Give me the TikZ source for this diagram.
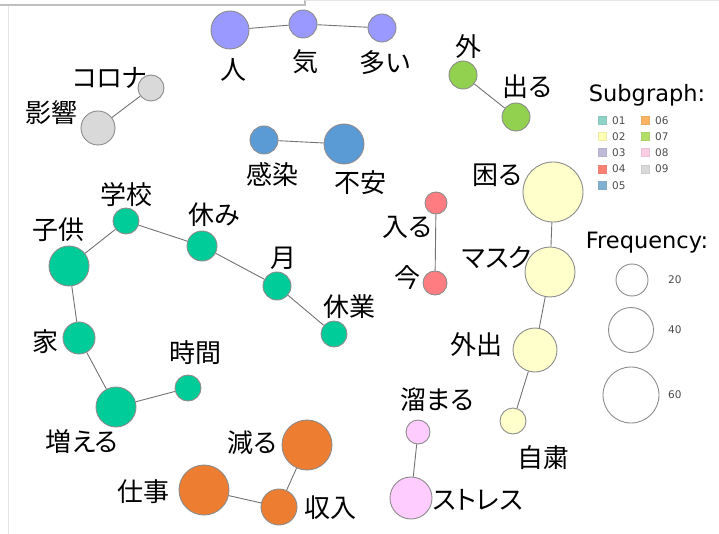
\documentclass[tikz,border=0pt]{standalone}
\usepackage{fontspec}
\newfontfamily\jp[RawFeature=+palt]{Noto Sans CJK JP}
\newfontfamily\legendfont{DejaVu Sans}

\definecolor{cTeal}{HTML}{00CC99}
\definecolor{cYellow}{HTML}{FFFFCC}
\definecolor{cPurple}{HTML}{9999FF}
\definecolor{cRed}{HTML}{FF7C80}
\definecolor{cBlue}{HTML}{5B9BD5}
\definecolor{cOrange}{HTML}{ED7D31}
\definecolor{cGreen}{HTML}{92D050}
\definecolor{cPink}{HTML}{FFCCFF}
\definecolor{cGray}{HTML}{D9D9D9}
\definecolor{sA}{HTML}{8DD3C7}
\definecolor{sB}{HTML}{FFFFB3}
\definecolor{sC}{HTML}{BEBADA}
\definecolor{sD}{HTML}{FB8072}
\definecolor{sE}{HTML}{80B1D3}
\definecolor{sF}{HTML}{FDB462}
\definecolor{sG}{HTML}{B3DE69}
\definecolor{sH}{HTML}{FCCDE5}
\definecolor{sI}{HTML}{D9D9D9}

\begin{document}
\begin{tikzpicture}[x=1pt,y=-1pt,
      word/.style={circle,draw=black!45,line width=.9pt,inner sep=0pt,minimum size=#1},
      lbl/.style={font=\jp\fontsize{26}{26}\selectfont,inner sep=0pt,text height=20.5pt,text depth=1pt},
      link/.style={draw=black!55,line width=.9pt},
      swatch/.style={draw=#1!85!gray,fill=#1,minimum size=8pt,inner sep=0pt},
      small/.style={font=\legendfont\fontsize{10.5}{10.5}\selectfont,text=black!70,inner sep=0pt,anchor=west},
      ring/.style={circle,draw=black!45,line width=.9pt,inner sep=0pt,minimum size=#1}
      ]
      \useasboundingbox (0,0) rectangle (719,534);
      % frame
      \draw[black!25,line width=2pt] (0,5) -- (305,5) -- (305,0);
      \draw[black!10,line width=1pt] (305,.5) -- (719,.5);
      \draw[black!10,line width=1pt] (8,6) -- (8,534);

      % 03
      \node[word=38pt,fill=cPurple] (hito) at (230,30) {};
      \node[word=28pt,fill=cPurple] (ki) at (303,24) {};
      \node[word=28pt,fill=cPurple] (ooi) at (382,28) {};
      \node[lbl] (lhito) at (233,70) {人};
      \node[lbl] (lki) at (305,62) {気};
      \node[lbl] (looi) at (385,63) {多い};
      \draw[link] (hito) -- (ki) -- (ooi);

      % 09
      \node[word=26pt,fill=cGray] (corona) at (151,88) {};
      \node[word=34pt,fill=cGray] (eikyo) at (98,128) {};
      \node[lbl] (lcorona) at (110,78) {コロナ};
      \node[lbl] (leikyo) at (51,113) {影響};
      \draw[link] (corona) -- (eikyo);

      % 05
      \node[word=28pt,fill=cBlue] (kansen) at (264,140) {};
      \node[word=40pt,fill=cBlue] (fuan) at (344,144) {};
      \node[lbl] (lkansen) at (272,175) {感染};
      \node[lbl] (lfuan) at (360,183) {不安};
      \draw[link] (kansen) -- (fuan);

      % 07
      \node[word=28pt,fill=cGreen] (soto) at (463,75) {};
      \node[word=28pt,fill=cGreen] (deru) at (516,117) {};
      \node[lbl] (lsoto) at (468,47) {外};
      \node[lbl] (lderu) at (527,87) {出る};
      \draw[link] (soto) -- (deru);

      % 01
      \node[word=26pt,fill=cTeal] (gakko) at (126,221) {};
      \node[word=40pt,fill=cTeal] (kodomo) at (69,266) {};
      \node[word=30pt,fill=cTeal] (yasumi) at (202,246) {};
      \node[word=28pt,fill=cTeal] (tsuki) at (277,286) {};
      \node[word=26pt,fill=cTeal] (kyugyo) at (334,334) {};
      \node[word=32pt,fill=cTeal] (ie) at (79,338) {};
      \node[word=26pt,fill=cTeal] (jikan) at (188,388) {};
      \node[word=40pt,fill=cTeal] (fueru) at (116,407) {};
      \node[lbl] (lgakko) at (126,195) {学校};
      \node[lbl] (lkodomo) at (58,230) {子供};
      \node[lbl] (lyasumi) at (214,215) {休み};
      \node[lbl] (ltsuki) at (283,258) {月};
      \node[lbl] (lkyugyo) at (349,307) {休業};
      \node[lbl] (lie) at (45,342) {家};
      \node[lbl] (ljikan) at (195,353) {時間};
      \node[lbl] (lfueru) at (82,442) {増える};
      \draw[link] (kodomo) -- (gakko) -- (yasumi) -- (tsuki) -- (kyugyo);
      \draw[link] (kodomo) -- (ie) -- (fueru) -- (jikan);

      % 06
      \node[word=50pt,fill=cOrange] (heru) at (307,445) {};
      \node[word=50pt,fill=cOrange] (shigoto) at (204,490) {};
      \node[word=36pt,fill=cOrange] (shunyu) at (279,507) {};
      \node[lbl] (lheru) at (252,443) {減る};
      \node[lbl] (lshigoto) at (143,492) {仕事};
      \node[lbl] (lshunyu) at (330,508) {収入};
      \draw[link] (shigoto) -- (shunyu) -- (heru);

      % 04
      \node[word=22pt,fill=cRed] (hairu) at (436,203) {};
      \node[word=24pt,fill=cRed] (ima) at (435,283) {};
      \node[lbl] (lhairu) at (407,227) {入る};
      \node[lbl] (lima) at (407,278) {今};
      \draw[link] (hairu) -- (ima);

      % 02
      \node[word=60pt,fill=cYellow] (komaru) at (553,192) {};
      \node[word=50pt,fill=cYellow] (masuku) at (550,272) {};
      \node[word=44pt,fill=cYellow] (gaishutsu) at (535,350) {};
      \node[word=26pt,fill=cYellow] (jishuku) at (513,421) {};
      \node[lbl] (lkomaru) at (497,175) {困る};
      \node[lbl] (lmasuku) at (497,258) {マスク};
      \node[lbl] (lgaishutsu) at (476,345) {外出};
      \node[lbl] (ljishuku) at (543,458) {自粛};
      \draw[link] (komaru) -- (masuku) -- (gaishutsu) -- (jishuku);

      % 08
      \node[word=24pt,fill=cPink] (tamaru) at (418,432) {};
      \node[word=42pt,fill=cPink] (stress) at (411,498) {};
      \node[lbl] (ltamaru) at (437,400) {溜まる};
      \node[lbl] (lstress) at (478,500) {ストレス};
      \draw[link] (tamaru) -- (stress);

      % legend
      \node[font=\legendfont\fontsize{22.5}{22.5}\selectfont,inner sep=0pt] (subgraph) at (647,95) {Subgraph:};
      \node[swatch=sA] (s01) at (602,120.5) {};
      \node[swatch=sB] (s02) at (602,136.5) {};
      \node[swatch=sC] (s03) at (602,152.5) {};
      \node[swatch=sD] (s04) at (602,169) {};
      \node[swatch=sE] (s05) at (602,185.5) {};
      \node[swatch=sF] (s06) at (645,120.5) {};
      \node[swatch=sG] (s07) at (645,136.5) {};
      \node[swatch=sH] (s08) at (645,152.5) {};
      \node[swatch=sI] (s09) at (645,169) {};
      \node[small] at (612,120.5) {01};
      \node[small] at (612,136.5) {02};
      \node[small] at (612,152.5) {03};
      \node[small] at (612,169) {04};
      \node[small] at (612,185.5) {05};
      \node[small] at (655,120.5) {06};
      \node[small] at (655,136.5) {07};
      \node[small] at (655,152.5) {08};
      \node[small] at (655,169) {09};

      \node[font=\legendfont\fontsize{22.5}{22.5}\selectfont,inner sep=0pt] (frequency) at (647,243) {Frequency:};
      \node[ring=32pt] (f20) at (632,280) {};
      \node[ring=45pt] (f40) at (631,330) {};
      \node[ring=56pt] (f60) at (631,395) {};
      \node[small] at (668,280) {20};
      \node[small] at (668,330) {40};
      \node[small] at (668,395) {60};
    \end{tikzpicture}
\end{document}
